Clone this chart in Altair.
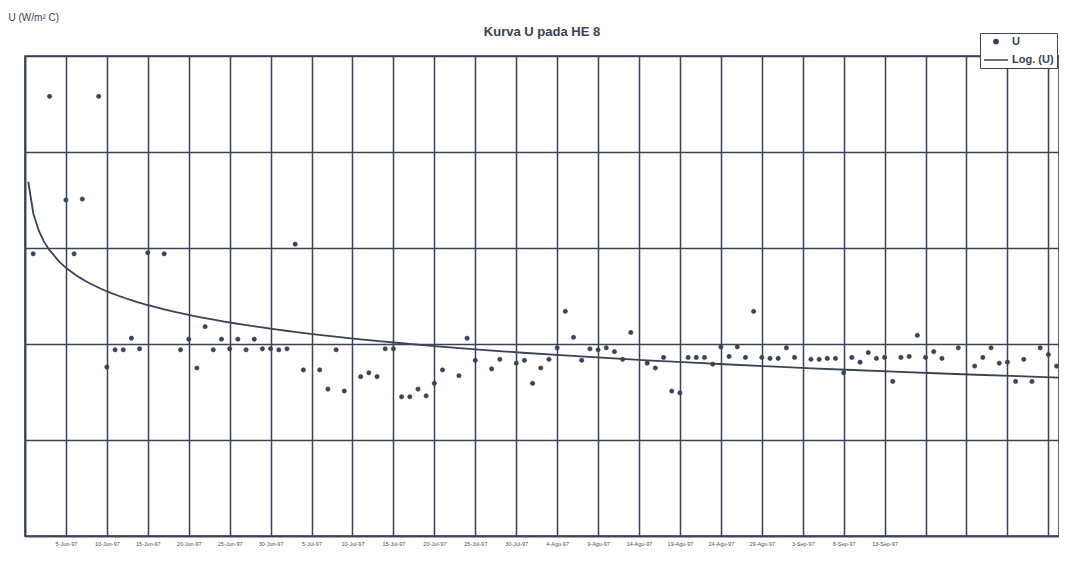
import altair as alt
import pandas as pd

# Hari ke- (index of measurement) and overall heat-transfer coefficient U
K = [1, 3, 5, 6, 7, 9, 10, 11, 12, 13,
     14, 15, 17, 19, 20, 21, 22, 23, 24, 25,
     26, 27, 28, 29, 30, 31, 32, 33, 34, 36,
     37, 38, 39, 41, 42, 43, 44, 45, 46, 47,
     48, 49, 50, 51, 53, 54, 55, 57, 58, 60,
     61, 62, 63, 64, 65, 66, 67, 68, 69, 70,
     71, 72, 73, 74, 76, 77, 78, 79, 80, 81,
     82, 83, 84, 85, 86, 87, 88, 89, 90, 91,
     92, 93, 94, 96, 97, 98, 99, 100, 101, 102,
     103, 104, 105, 106, 107, 108, 109, 110, 111, 112,
     114, 116, 117, 118, 119, 120, 121, 122, 123, 124,
     125, 126]
U = [294, 458, 350, 294, 351, 458, 176, 194, 194, 206,
     195, 295, 294, 194, 205, 175, 218, 194, 205, 195,
     205, 194, 205, 195, 195, 194, 195, 304, 173, 173,
     153, 194, 151, 166, 170, 166, 195, 195, 145, 145,
     153, 146, 159, 173, 167, 206, 183, 174, 184, 180,
     183, 159, 175, 184, 196, 234, 207, 183, 195, 194,
     196, 192, 184, 212, 180, 175, 186, 151, 149, 186,
     186, 186, 179, 197, 187, 197, 186, 234, 186, 185,
     185, 196, 186, 184, 184, 185, 185, 170, 186, 181,
     191, 185, 186, 161, 186, 187, 209, 186, 192, 185,
     196, 177, 186, 196, 180, 181, 161, 184, 161, 196,
     189, 177]

X_TICKS = list(range(0, 130, 5))
X_LABELS = ["5-Jun-97", "10-Jun-97", "15-Jun-97", "20-Jun-97", "25-Jun-97",
            "30-Jun-97", "5-Jul-97", "10-Jul-97", "15-Jul-97", "20-Jul-97",
            "25-Jul-97", "30-Jul-97", "4-Agu-97", "9-Agu-97", "14-Agu-97",
            "19-Agu-97", "24-Agu-97", "29-Agu-97", "3-Sep-97", "8-Sep-97",
            "13-Sep-97"]
Y_TICKS = [0, 100, 200, 300, 400, 500]
SERIES = ["U", "Log. (U)"]

C = "#3b4254"
FONT = "Liberation Sans"

df = pd.DataFrame({"k": K, "U": U, "seri": SERIES[0]})

arr = "[" + ",".join("'" + s + "'" for s in X_LABELS) + "]"
label_expr = f"datum.value >= 5 && datum.value <= 105 ? {arr}[datum.value/5 - 1] : ''"

x = alt.X("k:Q",
          scale=alt.Scale(domain=[0, 126.3], nice=False, zero=False),
          axis=alt.Axis(values=X_TICKS, labelExpr=label_expr, title=None,
                        grid=True, ticks=False, labelFontSize=5.5,
                        labelColor="#4a5064", labelPadding=5,
                        labelFont=FONT, labelAngle=0))
y = alt.Y("U:Q",
          scale=alt.Scale(domain=[0, 500], nice=False),
          axis=alt.Axis(values=Y_TICKS, labels=False, ticks=False,
                        title="U (W/m² C)", titleAngle=0, titleAlign="left",
                        titleBaseline="middle", titleX=-17, titleY=-39,
                        titleFontSize=10, titleFontWeight="normal",
                        titleColor=C, titleFont=FONT, grid=True))

leg = alt.Legend(orient="none", legendX=955, legendY=-23, title=None,
                 labelFontSize=11, labelFontWeight="bold", labelColor=C,
                 labelFont=FONT, strokeColor=C, fillColor="white",
                 padding=3, rowPadding=-9, symbolStrokeColor=C,
                 symbolStrokeWidth=1.5, symbolFillColor=C, labelOffset=3)

color_scale = alt.Scale(domain=SERIES, range=[C, C])

points = alt.Chart(df).mark_point(filled=False, fill=C, strokeWidth=0.7,
                                  opacity=1, fillOpacity=1).encode(
    x=x, y=y,
    color=alt.Color("seri:N", scale=color_scale, legend=leg),
    shape=alt.Shape("seri:N", scale=alt.Scale(domain=SERIES, range=["circle", "stroke"]), legend=leg),
    size=alt.Size("seri:N", scale=alt.Scale(domain=SERIES, range=[18, 576]), legend=leg),
)

trend = alt.Chart(df).transform_regression(
    "k", "U", method="log", extent=[0.4, 126.3]
).transform_calculate(
    seri=f"'{SERIES[1]}'"
).mark_line(strokeWidth=1.8).encode(
    x=x, y=y,
    color=alt.Color("seri:N", scale=color_scale, legend=leg),
)

chart = alt.layer(trend, points).properties(
    width=1034, height=480,
    autosize=alt.AutoSizeParams(type="none"),
    padding={"left": 17, "top": 48, "right": 0, "bottom": 20},
    title=alt.Title("Kurva U pada HE 8", fontSize=13, fontWeight="bold",
                    color=C, offset=0, dy=27, anchor="middle", font=FONT,
                    frame="group"),
).configure(background="white").configure_view(
    stroke=C, strokeWidth=1.6
).configure_axis(
    gridColor=C, gridWidth=1.5, gridOpacity=1, domainColor=C, domainWidth=1.6
)

chart.save("out.html", embed_options={"renderer": "svg", "actions": False})
